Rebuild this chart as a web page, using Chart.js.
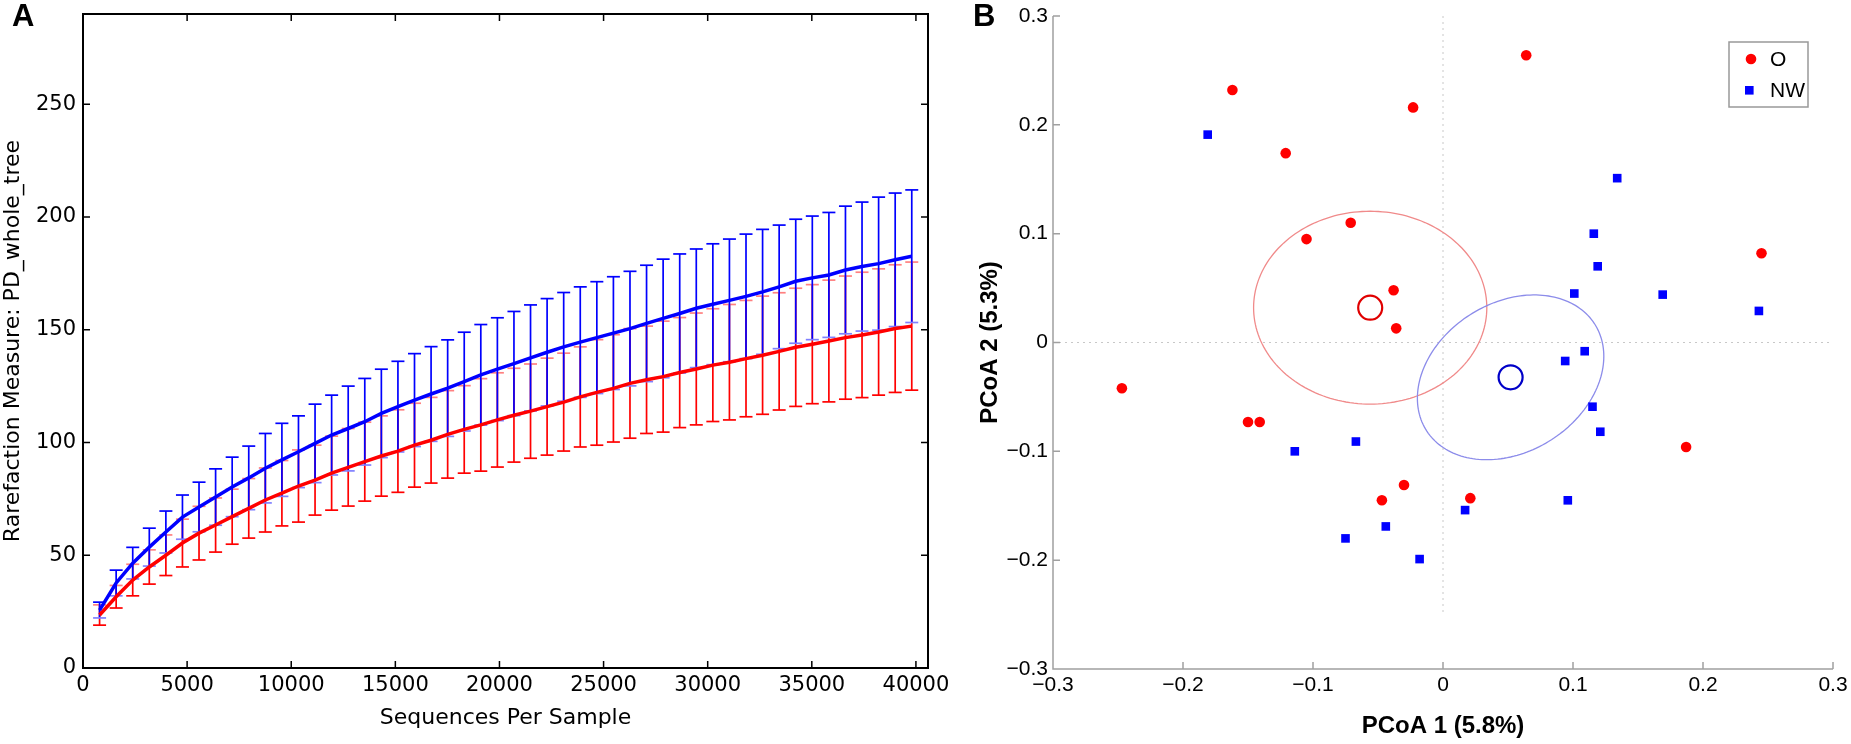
<!DOCTYPE html>
<html>
<head>
<meta charset="utf-8">
<script src="https://cdn.jsdelivr.net/npm/chart.js@4.4.1/dist/chart.umd.min.js"></script>
<style>
    html, body { margin: 0; padding: 0; background: #fff; }
    #wrap { position: relative; width: 1851px; height: 744px; overflow: hidden; }
    canvas { position: absolute; top: 0; }
    #rarefactionChart { left: 0; }
    #pcoaChart { left: 940px; }
    .panel-tag { position: absolute; top: 0; font-family: 'Liberation Sans', Arial, sans-serif; font-weight: bold; font-size: 31px; line-height: 1; }
</style>
</head>
<body>
<div id="wrap">
    <canvas id="rarefactionChart" width="1000" height="744"></canvas>
    <canvas id="pcoaChart" width="911" height="744"></canvas>
    <div class="panel-tag" style="left:12px">A</div>
    <div class="panel-tag" style="left:973px">B</div>
</div>
<script>
// ---- panel A: rarefaction curves ----
const seqDepth = [796, 1592, 2388, 3184, 3980, 4776, 5572, 6368, 7164, 7960,
    8756, 9552, 10348, 11144, 11940, 12736, 13532, 14328, 15124, 15920,
    16716, 17512, 18308, 19104, 19900, 20696, 21492, 22288, 23084, 23880,
    24676, 25472, 26268, 27064, 27860, 28656, 29452, 30248, 31044, 31840,
    32636, 33432, 34228, 35024, 35820, 36616, 37412, 38208, 39004, 39800];
const nwMean = [25.7, 37.7, 46.5, 53.6, 60.3, 66.9, 71.4, 75.8, 80.3, 84.3,
    88.6, 92.3, 95.9, 99.6, 103.3, 106.2, 109.2, 112.9, 115.9, 118.8,
    121.5, 124.1, 127.0, 130.0, 132.5, 135.0, 137.5, 140.0, 142.4, 144.5,
    146.5, 148.5, 150.5, 152.8, 155.0, 157.2, 159.5, 161.3, 163.0, 164.8,
    166.8, 169.0, 171.5, 173.0, 174.3, 176.5, 178.0, 179.3, 181.0, 182.6];
const nwSd = [3.5, 5.7, 7.0, 8.4, 9.3, 9.8, 11.0, 12.5, 13.2, 14.1,
    15.4, 16.2, 15.9, 17.4, 17.7, 18.8, 19.2, 19.6, 20.1, 20.6,
    21.0, 21.4, 21.9, 22.3, 22.8, 23.1, 23.5, 23.8, 24.1, 24.5,
    24.8, 25.0, 25.4, 25.8, 26.3, 26.4, 26.3, 26.8, 27.2, 27.6,
    27.7, 27.4, 27.5, 27.4, 27.7, 28.3, 28.6, 29.5, 29.6, 29.4];
const oMean = [23.5, 31.6, 39.0, 44.8, 50.0, 55.4, 59.8, 63.4, 67.1, 70.8,
    74.5, 77.5, 80.7, 83.3, 86.4, 89.0, 91.5, 94.0, 96.2, 98.8,
    101.0, 103.6, 105.8, 107.8, 110.0, 112.1, 113.9, 115.9, 117.9, 120.2,
    122.2, 124.0, 126.2, 127.8, 129.2, 131.0, 132.6, 134.3, 135.6, 137.2,
    138.7, 140.4, 142.2, 143.6, 145.0, 146.5, 147.7, 149.0, 150.5, 151.6];
const oSd = [4.5, 5.0, 7.0, 7.6, 9.0, 10.6, 11.9, 12.0, 12.2, 13.2,
    14.2, 14.5, 16.0, 15.5, 16.4, 17.2, 17.5, 17.8, 18.3, 18.6,
    19.0, 19.4, 19.4, 20.5, 20.9, 20.8, 20.9, 21.5, 21.7, 22.2,
    23.4, 23.8, 24.3, 23.8, 24.6, 24.4, 24.8, 25.0, 25.6, 25.8,
    26.2, 26.0, 26.2, 26.4, 27.0, 27.3, 27.8, 28.0, 28.3, 28.4];
const xTicksA = [0, 5000, 10000, 15000, 20000, 25000, 30000, 35000, 40000];
const yTicksA = [0, 50, 100, 150, 200, 250];

// ---- panel B: PCoA ----
const oX = [0.064, -0.162, -0.023, -0.121, -0.071, -0.105, -0.038, -0.036,
    0.245, -0.247, -0.150, -0.141, 0.187, -0.030, -0.047, 0.021];
const oY = [0.264, 0.232, 0.216, 0.174, 0.110, 0.095, 0.048, 0.013,
    0.082, -0.042, -0.073, -0.073, -0.096, -0.131, -0.145, -0.143];
const nwX = [-0.181, 0.134, 0.116, 0.119, 0.101, 0.169, 0.243, 0.109, 0.094,
    0.115, 0.121, -0.067, -0.114, 0.096, 0.017, -0.044, -0.075, -0.018];
const nwY = [0.191, 0.151, 0.100, 0.070, 0.045, 0.044, 0.029, -0.008, -0.017,
    -0.059, -0.082, -0.091, -0.100, -0.145, -0.154, -0.169, -0.180, -0.199];
const oCentroid = [-0.056, 0.032];
const nwCentroid = [0.052, -0.032];
// ellipse = centre + u*cos(t) + v*sin(t), in PCoA units
const oEllipse = { center: oCentroid, u: [0.0897, 0], v: [0, 0.0886] };
const nwEllipse = { center: nwCentroid, u: [0.0717, 0.0193], v: [0, 0.0732] };
const pcTicks = [-0.3, -0.2, -0.1, 0, 0.1, 0.2, 0.3];

Chart.defaults.animation = false;
Chart.defaults.color = '#000';

const fixTicks = (list) => (scale) => { scale.ticks = list.map(v => ({ value: v })); };
const fixSize = (prop, size) => (scale) => {
    scale[prop] = size;
    scale.paddingLeft = 0; scale.paddingRight = 0;
    scale.paddingTop = 0; scale.paddingBottom = 0;
};

// error bars go under the mean lines; red first so blue bars sit on top
const errorBars = {
    id: 'errorBars',
    beforeDatasetsDraw(chart) {
        const { ctx, scales: { x, y } } = chart;
        ctx.save();
        for (let i = chart.data.datasets.length - 1; i >= 0; i--) {
            const ds = chart.data.datasets[i];
            ds.data.forEach((p, j) => {
                const px = x.getPixelForValue(p.x);
                const top = y.getPixelForValue(p.y + ds.sd[j]);
                const bot = y.getPixelForValue(p.y - ds.sd[j]);
                ctx.lineWidth = 1.7;
                ctx.strokeStyle = ds.borderColor;
                ctx.beginPath(); ctx.moveTo(px, top); ctx.lineTo(px, bot); ctx.stroke();
                ctx.strokeStyle = ds.upperCap;
                ctx.beginPath(); ctx.moveTo(px - 6.5, top); ctx.lineTo(px + 6.5, top); ctx.stroke();
                ctx.strokeStyle = ds.lowerCap;
                ctx.beginPath(); ctx.moveTo(px - 6.5, bot); ctx.lineTo(px + 6.5, bot); ctx.stroke();
            });
        }
        ctx.restore();
    }
};

// black box with inward ticks on all four sides
const boxFrame = {
    id: 'boxFrame',
    afterDatasetsDraw(chart) {
        const { ctx, chartArea: a, scales: { x, y } } = chart;
        ctx.save();
        ctx.strokeStyle = '#000';
        ctx.lineWidth = 1.5;
        ctx.beginPath();
        xTicksA.forEach(v => {
            const px = x.getPixelForValue(v);
            ctx.moveTo(px, a.bottom); ctx.lineTo(px, a.bottom - 7);
            ctx.moveTo(px, a.top); ctx.lineTo(px, a.top + 7);
        });
        yTicksA.forEach(v => {
            const py = y.getPixelForValue(v);
            ctx.moveTo(a.left, py); ctx.lineTo(a.left + 7, py);
            ctx.moveTo(a.right, py); ctx.lineTo(a.right - 7, py);
        });
        ctx.stroke();
        ctx.lineWidth = 2;
        ctx.strokeRect(a.left, a.top, a.right - a.left, a.bottom - a.top);
        ctx.restore();
    }
};

new Chart(document.getElementById('rarefactionChart').getContext('2d'), {
    type: 'line',
    data: {
        datasets: [
            {
                label: 'NW',
                data: seqDepth.map((s, i) => ({ x: s, y: nwMean[i] })),
                sd: nwSd,
                borderColor: '#0000ff',
                upperCap: '#0000ff',
                lowerCap: '#8080ff',
                borderWidth: 3.5,
                pointRadius: 0,
                tension: 0,
                fill: false
            },
            {
                label: 'O',
                data: seqDepth.map((s, i) => ({ x: s, y: oMean[i] })),
                sd: oSd,
                borderColor: '#ff0000',
                upperCap: '#ff8080',
                lowerCap: '#ff0000',
                borderWidth: 3.5,
                pointRadius: 0,
                tension: 0,
                fill: false
            }
        ]
    },
    options: {
        responsive: false,
        devicePixelRatio: 1,
        layout: { padding: { top: 14, right: 72, left: 0, bottom: 0 } },
        scales: {
            x: {
                type: 'linear',
                min: 0,
                max: 40580,
                afterBuildTicks: fixTicks(xTicksA),
                afterFit: fixSize('height', 76),
                grid: { display: false, drawTicks: false },
                border: { display: false },
                ticks: {
                    font: { size: 21, family: 'DejaVu Sans' },
                    padding: 5,
                    maxRotation: 0,
                    autoSkip: false,
                    callback: v => String(v)
                },
                title: {
                    display: true,
                    text: 'Sequences Per Sample',
                    font: { size: 22, family: 'DejaVu Sans' },
                    padding: { top: 0, bottom: 13 }
                }
            },
            y: {
                min: 0,
                max: 290,
                afterBuildTicks: fixTicks(yTicksA),
                afterFit: fixSize('width', 83),
                grid: { display: false, drawTicks: false },
                border: { display: false },
                ticks: { font: { size: 21, family: 'DejaVu Sans' }, padding: 7, callback: v => String(v) },
                title: {
                    display: true,
                    text: 'Rarefaction Measure: PD_whole_tree',
                    font: { size: 22, family: 'DejaVu Sans' },
                    padding: { top: 0, bottom: 0 }
                }
            }
        },
        plugins: { legend: { display: false }, tooltip: { enabled: false } }
    },
    plugins: [errorBars, boxFrame]
});

const fmtPc = v => Math.abs(v) < 1e-9 ? '0' : (v < 0 ? '\u2212' : '') + Math.abs(v).toFixed(1);

function traceEllipse(ctx, x, y, e, color) {
    ctx.beginPath();
    for (let i = 0; i <= 180; i++) {
        const t = i / 180 * Math.PI * 2;
        const vx = e.center[0] + e.u[0] * Math.cos(t) + e.v[0] * Math.sin(t);
        const vy = e.center[1] + e.u[1] * Math.cos(t) + e.v[1] * Math.sin(t);
        const px = x.getPixelForValue(vx), py = y.getPixelForValue(vy);
        if (i === 0) ctx.moveTo(px, py); else ctx.lineTo(px, py);
    }
    ctx.closePath();
    ctx.strokeStyle = color;
    ctx.lineWidth = 1.3;
    ctx.stroke();
}

const pcoaDecor = {
    id: 'pcoaDecor',
    beforeDatasetsDraw(chart) {
        const { ctx, scales: { x, y } } = chart;
        ctx.save();
        ctx.strokeStyle = '#c8c8c8';
        ctx.lineWidth = 1;
        ctx.setLineDash([2, 4]);
        ctx.beginPath();
        ctx.moveTo(x.getPixelForValue(0), y.getPixelForValue(0.3));
        ctx.lineTo(x.getPixelForValue(0), y.getPixelForValue(-0.25));
        ctx.moveTo(x.getPixelForValue(-0.3), y.getPixelForValue(0));
        ctx.lineTo(x.getPixelForValue(0.3), y.getPixelForValue(0));
        ctx.stroke();
        ctx.setLineDash([]);
        traceEllipse(ctx, x, y, oEllipse, '#f08a8a');
        traceEllipse(ctx, x, y, nwEllipse, '#8c8cea');
        ctx.restore();
    },
    afterDatasetsDraw(chart) {
        const { ctx, chartArea: a, scales: { x, y } } = chart;
        ctx.save();
        // grey left + bottom axes, ticks pointing inward
        ctx.strokeStyle = '#a0a0a0';
        ctx.lineWidth = 1.5;
        ctx.beginPath();
        ctx.moveTo(a.left, a.top); ctx.lineTo(a.left, a.bottom); ctx.lineTo(a.right, a.bottom);
        pcTicks.forEach(v => {
            const px = x.getPixelForValue(v), py = y.getPixelForValue(v);
            ctx.moveTo(px, a.bottom); ctx.lineTo(px, a.bottom - 7);
            ctx.moveTo(a.left, py); ctx.lineTo(a.left + 7, py);
        });
        ctx.stroke();

        // legend box in the top right corner
        const bx = a.right - 104, by = a.top + 26, bw = 79, bh = 65;
        ctx.fillStyle = '#fff';
        ctx.fillRect(bx, by, bw, bh);
        ctx.strokeStyle = '#999';
        ctx.lineWidth = 1.5;
        ctx.strokeRect(bx, by, bw, bh);
        ctx.fillStyle = '#ff0000';
        ctx.beginPath(); ctx.arc(bx + 22, by + 17, 5.3, 0, Math.PI * 2); ctx.fill();
        ctx.fillStyle = '#0000ff';
        ctx.fillRect(bx + 16, by + 44, 8.6, 8.6);
        ctx.fillStyle = '#000';
        ctx.font = '21px "Liberation Sans", Arial, sans-serif';
        ctx.textBaseline = 'middle';
        ctx.fillText('O', bx + 41, by + 18);
        ctx.fillText('NW', bx + 41, by + 49);
        ctx.restore();
    }
};

new Chart(document.getElementById('pcoaChart').getContext('2d'), {
    type: 'scatter',
    data: {
        datasets: [
            {
                label: 'O',
                data: oX.map((v, i) => ({ x: v, y: oY[i] })),
                pointStyle: 'circle',
                pointRadius: 5.3,
                backgroundColor: '#ff0000',
                borderWidth: 0
            },
            {
                label: 'NW',
                data: nwX.map((v, i) => ({ x: v, y: nwY[i] })),
                pointStyle: 'rect',
                pointRadius: 6.1,
                backgroundColor: '#0000ff',
                borderWidth: 0
            },
            {
                label: 'O centroid',
                data: [{ x: oCentroid[0], y: oCentroid[1] }],
                pointStyle: 'circle',
                pointRadius: 12,
                backgroundColor: 'rgba(0,0,0,0)',
                borderColor: '#e00000',
                borderWidth: 2.2
            },
            {
                label: 'NW centroid',
                data: [{ x: nwCentroid[0], y: nwCentroid[1] }],
                pointStyle: 'circle',
                pointRadius: 12,
                backgroundColor: 'rgba(0,0,0,0)',
                borderColor: '#0000c8',
                borderWidth: 2.2
            }
        ]
    },
    options: {
        responsive: false,
        devicePixelRatio: 1,
        layout: { padding: { top: 16, right: 18, left: 0, bottom: 0 } },
        scales: {
            x: {
                min: -0.3,
                max: 0.3,
                afterBuildTicks: fixTicks(pcTicks),
                afterFit: fixSize('height', 75),
                grid: { display: false, drawTicks: false },
                border: { display: false },
                ticks: {
                    font: { size: 21, family: 'Liberation Sans' },
                    padding: 4,
                    maxRotation: 0,
                    autoSkip: false,
                    callback: fmtPc
                },
                title: {
                    display: true,
                    text: 'PCoA 1 (5.8%)',
                    font: { size: 24, weight: 'bold', family: 'Liberation Sans' },
                    padding: { top: 0, bottom: 3 }
                }
            },
            y: {
                min: -0.3,
                max: 0.3,
                afterBuildTicks: fixTicks(pcTicks),
                afterFit: fixSize('width', 113),
                grid: { display: false, drawTicks: false },
                border: { display: false },
                ticks: {
                    font: { size: 21, family: 'Liberation Sans' },
                    padding: 5,
                    autoSkip: false,
                    callback: fmtPc
                },
                title: {
                    display: true,
                    text: 'PCoA 2 (5.3%)',
                    font: { size: 24, weight: 'bold', family: 'Liberation Sans' },
                    padding: { top: 36, bottom: 0 }
                }
            }
        },
        plugins: { legend: { display: false }, tooltip: { enabled: false } }
    },
    plugins: [pcoaDecor]
});
</script>
</body>
</html>
